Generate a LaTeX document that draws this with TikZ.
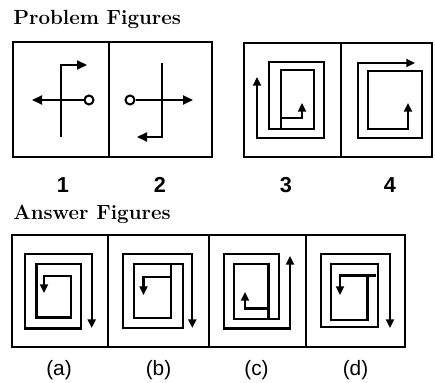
\documentclass[tikz,border=0pt]{standalone}
\usepackage{fontspec}
\newfontfamily\labfont{Liberation Sans}
\usetikzlibrary{arrows.meta}
\begin{document}
\begin{tikzpicture}[x=0.6pt,y=-0.6pt,
  frame/.style={line width=1.6pt, line join=miter},
  spiral/.style={line width=1.25pt, line join=miter},
  tipA/.style={-{Triangle[length=6pt,width=5.4pt]}},
  tipB/.style={{Triangle[length=5.2pt,width=4.8pt]}-{Triangle[length=5.2pt,width=4.8pt]}},
  ring/.style={circle, draw, line width=1.2pt, minimum size=5.4pt, inner sep=0pt},
  title/.style={anchor=base west, inner sep=0pt, font=\fontsize{12.3}{14}\selectfont\bfseries},
  num/.style={inner sep=0pt, font=\labfont\fontsize{13}{15}\selectfont\bfseries},
  lab/.style={inner sep=0pt, font=\labfont\fontsize{12.5}{15}\selectfont}]
\useasboundingbox (0,0) rectangle (435,383);

% titles
\node[title] (tp) at (13,25) {Problem Figures};
\node[title] (ta) at (13,220) {Answer Figures};

% problem frames
\draw[frame] (13,42) rectangle (212,157);
\draw[frame] (109,42) -- (109,157);
\draw[frame] (244,43) rectangle (432,157);
\draw[frame] (341,43) -- (341,157);

% figure 1
\node[ring] (c1) at (89,100) {};
\coordinate (e1) at (32,100);
\draw[spiral,tipA] (c1) -- (e1);
\draw[spiral,tipA] (61,137) -- (61,65) -- (87,65);

% figure 2
\node[ring] (c2) at (130,100) {};
\coordinate (e2) at (193,100);
\draw[spiral,tipA] (c2) -- (e2);
\draw[spiral,tipA] (162,63) -- (162,137) -- (137,137);

% figure 3
\draw[spiral,tipB] (257,77) -- (257,138) -- (324,138) -- (324,62) -- (269,62)
  -- (269,129) -- (314,129) -- (314,70) -- (281,70) -- (281,118) -- (302,118) -- (302,103);
\draw[spiral] (281,118) -- (281,129);

% figure 4
\draw[spiral,tipB] (415,63) -- (358,63) -- (358,138) -- (422,138) -- (422,71)
  -- (368,71) -- (368,129) -- (408,129) -- (408,103);

% numbers
\node[num] (n1) at (63,185) {1};
\node[num] (n2) at (160,185) {2};
\node[num] (n3) at (286,185) {3};
\node[num] (n4) at (390,185) {4};

% answer frames
\draw[frame] (12,235) rectangle (405,347);
\draw[frame] (108,235) -- (108,347);
\draw[frame] (209,235) -- (209,347);
\draw[frame] (306,235) -- (306,347);

% answer (a)
\draw[spiral,tipB] (44,293) -- (44,276) -- (70.7,276) -- (70.7,317.5) -- (36.5,317.5)
  -- (36.5,264) -- (80.7,264) -- (80.7,328.5) -- (25,328.5) -- (25,254) -- (91.7,254) -- (91.7,328);

% answer (b)
\draw[spiral,tipB] (143.5,295) -- (143.5,276.7) -- (171,276.7) -- (171,318.3) -- (134.3,318.3)
  -- (134.3,264.3) -- (183.3,264.3) -- (183.3,328.3) -- (123.3,328.3) -- (123.3,254.3)
  -- (192.3,254.3) -- (192.3,328);
\draw[spiral] (171,264.3) -- (171,276.7);

% answer (c)
\draw[spiral,tipB] (245,292) -- (245,308.5) -- (268.5,308.5) -- (268.5,264) -- (234,264)
  -- (234,319) -- (279,319) -- (279,254) -- (224,254) -- (224,328.5) -- (290,328.5) -- (290,256);
\draw[spiral] (268.5,308.5) -- (268.5,319);

% answer (d)
\draw[spiral,tipB] (340,295) -- (340,275.5) -- (367.5,275.5) -- (367.5,320) -- (331,320)
  -- (331,264.3) -- (378.3,264.3) -- (378.3,326.7) -- (321,326.7) -- (321,254.3)
  -- (390,254.3) -- (390,328);
\draw[spiral] (367.5,275.5) -- (376,275.5);

% answer labels
\node[lab] (la) at (59,370) {(a)};
\node[lab] (lb) at (158.5,370) {(b)};
\node[lab] (lc) at (256.5,370) {(c)};
\node[lab] (ld) at (355.5,370) {(d)};
\end{tikzpicture}
\end{document}
